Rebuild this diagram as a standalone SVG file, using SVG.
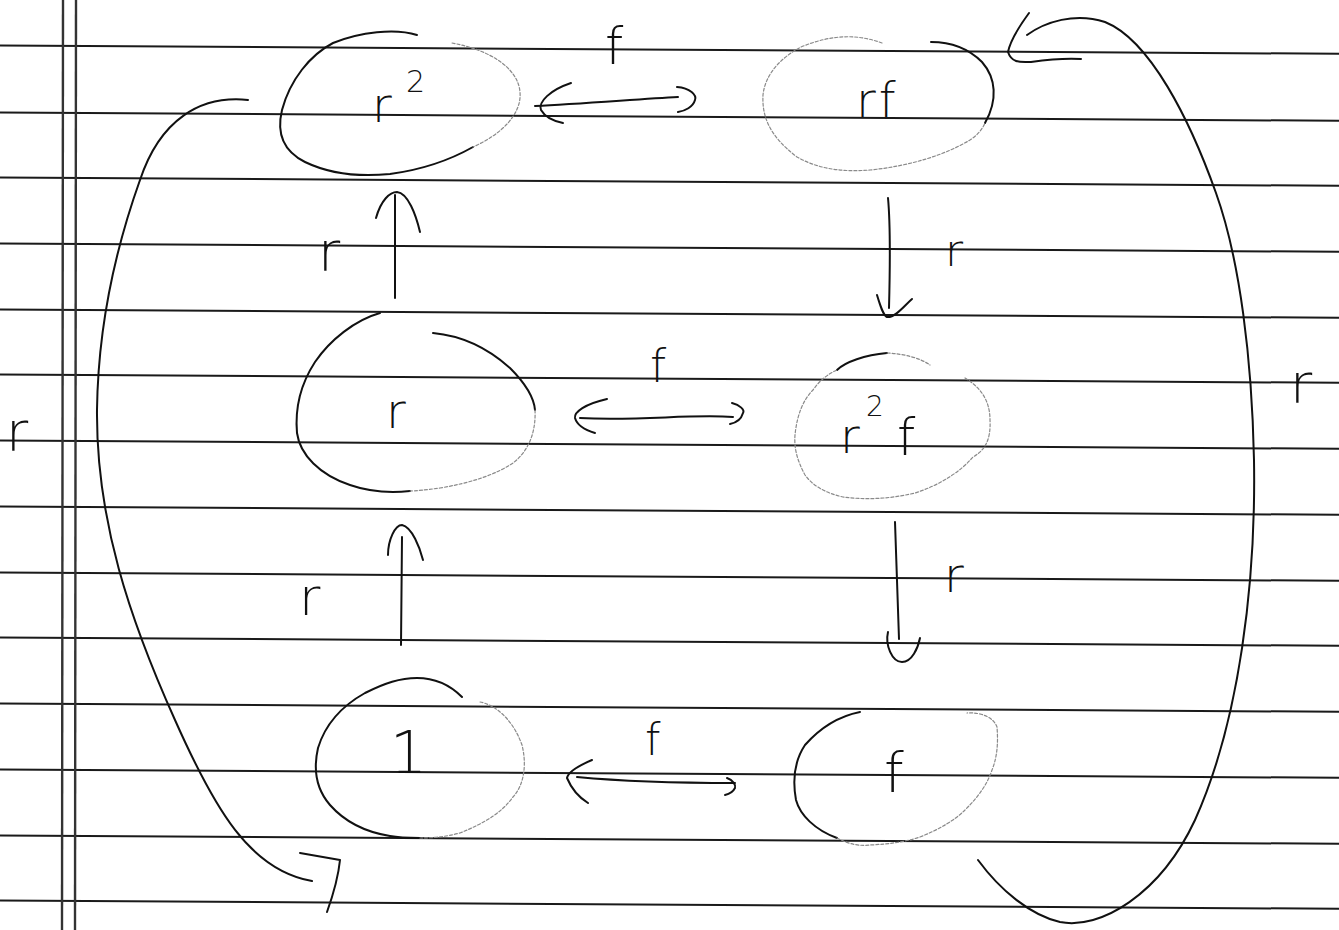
<svg xmlns="http://www.w3.org/2000/svg" width="1339" height="930" viewBox="0 0 1339 930">
<style>
.rule{stroke:#1a1a1a;stroke-width:2;fill:none}
.margin{stroke:#333;stroke-width:2.4;fill:none}
.pen{stroke:#111;stroke-width:2;fill:none;stroke-linecap:round;stroke-linejoin:round}
.faint{stroke:#8a8a8a;stroke-width:1.2;fill:none;stroke-dasharray:3 2;stroke-linecap:round}
.lbl{font-family:"DejaVu Sans","Liberation Sans",sans-serif;font-weight:200;fill:#111}
</style>
<rect width="1339" height="930" fill="#fff"/>
<g id="paper">
<line class="rule" x1="0" y1="45.5" x2="1339" y2="53.8"/>
<line class="rule" x1="0" y1="112.5" x2="1339" y2="120.8"/>
<line class="rule" x1="0" y1="177.5" x2="1339" y2="185.8"/>
<line class="rule" x1="0" y1="243.5" x2="1339" y2="251.8"/>
<line class="rule" x1="0" y1="309.5" x2="1339" y2="317.8"/>
<line class="rule" x1="0" y1="374.5" x2="1339" y2="382.8"/>
<line class="rule" x1="0" y1="440.5" x2="1339" y2="448.8"/>
<line class="rule" x1="0" y1="506.5" x2="1339" y2="514.8"/>
<line class="rule" x1="0" y1="572.5" x2="1339" y2="580.8"/>
<line class="rule" x1="0" y1="637.5" x2="1339" y2="645.8"/>
<line class="rule" x1="0" y1="703.5" x2="1339" y2="711.8"/>
<line class="rule" x1="0" y1="769.5" x2="1339" y2="777.8"/>
<line class="rule" x1="0" y1="835.5" x2="1339" y2="843.8"/>
<line class="rule" x1="0" y1="900.5" x2="1339" y2="908.8"/>
<line class="margin" x1="63" y1="0" x2="62" y2="930"/>
<line class="margin" x1="76" y1="0" x2="75" y2="930"/>
</g>

<g id="node-r2">
<path class="pen" d="M 417,35 C 395,28 360,32 333,43 C 310,55 290,80 282,110 C 276,135 285,152 305,162 C 330,174 360,177 390,174 C 420,170 450,160 473,147"/>
<path class="faint" d="M 452,43 C 490,50 518,68 520,92 C 522,115 500,135 473,147"/>
<text class="lbl" x="372" y="122" font-size="48">r<tspan x="406" y="92" font-size="30">2</tspan></text>
</g>

<g id="node-rf">
<path class="pen" d="M 931,42 C 950,42 968,48 982,62 C 996,78 998,100 985,123"/>
<path class="faint" d="M 882,43 C 860,35 835,33 801,47 C 780,58 765,75 763,95 C 762,115 768,135 797,157 C 820,170 845,172 870,170 C 910,166 945,155 970,140 C 978,135 983,128 985,123"/>
<text class="lbl" x="856" y="117" font-size="48" letter-spacing="3">rf</text>
</g>

<g id="node-r">
<path class="pen" d="M 380,313 C 355,320 330,340 315,362 C 300,385 295,410 297,433 C 300,455 320,475 350,485 C 370,492 390,493 410,491"/>
<path class="pen" d="M 433,333 C 465,336 490,350 510,368 C 525,383 534,398 535,410"/>
<path class="faint" d="M 535,410 C 536,430 530,450 513,463 C 495,475 470,483 440,488 C 425,490 415,491 410,491"/>
<text class="lbl" x="386" y="428" font-size="48">r</text>
</g>

<g id="node-r2f">
<path class="pen" d="M 887,353 C 865,355 845,362 837,370"/>
<path class="faint" d="M 887,353 C 905,354 920,358 930,365 M 965,378 C 980,387 990,400 990,420 C 991,440 985,450 973,457 C 960,472 940,485 915,493 C 890,499 865,500 843,497 C 825,493 812,485 805,475 C 797,460 794,448 795,435 C 797,415 803,400 813,390 C 820,380 828,374 837,370"/>
<text class="lbl" x="840" y="453" font-size="48">r<tspan x="866" y="416" font-size="28">2</tspan><tspan x="897" y="455" font-size="52">f</tspan></text>
</g>

<g id="node-1">
<path class="pen" d="M 462,697 C 450,685 435,678 417,678 C 400,678 385,683 365,693 C 340,707 325,725 318,748 C 313,770 317,790 330,805 C 345,822 365,832 390,836 C 400,838 410,838 420,838"/>
<path class="faint" d="M 480,702 C 500,706 515,725 522,745 C 527,765 524,785 513,797 C 502,812 487,822 460,833 C 445,837 432,838 420,838"/>
<text class="lbl" x="390" y="773" font-size="58">1</text>
</g>

<g id="node-f">
<path class="pen" d="M 860,712 C 840,716 820,728 805,745 C 795,760 792,778 796,800 C 800,815 815,830 837,838"/>
<path class="faint" d="M 837,838 C 850,845 860,846 870,845 C 890,844 905,842 920,837 C 940,829 955,820 965,810 C 978,797 987,785 992,770 C 998,755 998,740 997,727 C 994,718 982,712 967,713"/>
<text class="lbl" x="884" y="792" font-size="56">f</text>
</g>

<g id="connectors">
<path class="pen" d="M 535,106 C 580,104 640,99 678,97"/>
<path class="pen" d="M 571,83 C 550,90 538,102 541,110 C 545,117 553,121 563,123"/>
<path class="pen" d="M 677,87 C 690,88 697,95 695,100 C 693,107 685,111 678,112"/>
<path class="pen" d="M 580,418 C 640,421 690,414 733,417"/>
<path class="pen" d="M 607,399 C 585,404 574,412 575,418 C 577,425 585,430 595,433"/>
<path class="pen" d="M 732,403 C 740,405 745,410 743,413 C 741,420 735,423 730,424"/>
<path class="pen" d="M 577,777 C 630,782 690,783 735,783"/>
<path class="pen" d="M 592,760 C 578,766 568,772 567,778 C 572,790 580,798 588,803"/>
<path class="pen" d="M 727,778 C 733,780 736,785 735,788 C 733,792 729,794 725,795"/>
<path class="pen" d="M 395,298 L 395,195"/>
<path class="pen" d="M 376,218 C 381,200 390,192 397,192 C 408,193 416,215 420,232"/>
<path class="pen" d="M 401,645 L 402,537"/>
<path class="pen" d="M 388,555 C 388,540 395,525 402,525 C 412,527 420,548 423,560"/>
<path class="pen" d="M 888,198 C 891,230 890,270 889,308"/>
<path class="pen" d="M 877,295 C 880,305 883,315 887,317 C 895,318 905,305 912,299"/>
<path class="pen" d="M 895,522 L 899,639"/>
<path class="pen" d="M 888,632 C 885,645 892,662 902,662 C 912,662 918,648 920,638"/>
<path class="pen" d="M 248,100 C 200,95 160,120 140,180 C 115,250 98,330 97,410 C 96,520 130,620 175,720 C 215,810 250,870 312,881"/>
<path class="pen" d="M 300,853 L 340,860 C 338,880 332,898 327,912"/>
<path class="pen" d="M 1027,35 C 1045,22 1075,12 1105,22 C 1150,40 1190,120 1216,193 C 1240,260 1252,360 1254,460 C 1256,580 1240,720 1195,820 C 1160,895 1100,930 1060,922 C 1030,915 1000,890 978,860"/>
<path class="pen" d="M 1029,13 C 1018,28 1010,42 1008,52 C 1012,64 1022,62 1031,62 C 1045,60 1065,58 1081,59"/>
<text class="lbl" x="605" y="64" font-size="52">f</text>
<text class="lbl" x="650" y="382" font-size="46">f</text>
<text class="lbl" x="645" y="755" font-size="44">f</text>
<text class="lbl" x="318" y="270" font-size="54">r</text>
<text class="lbl" x="299" y="615" font-size="52">r</text>
<text class="lbl" x="945" y="266" font-size="44">r</text>
<text class="lbl" x="944" y="592" font-size="48">r</text>
<text class="lbl" x="6" y="450" font-size="54">r</text>
<text class="lbl" x="1290" y="402" font-size="54">r</text>
</g>
</svg>
